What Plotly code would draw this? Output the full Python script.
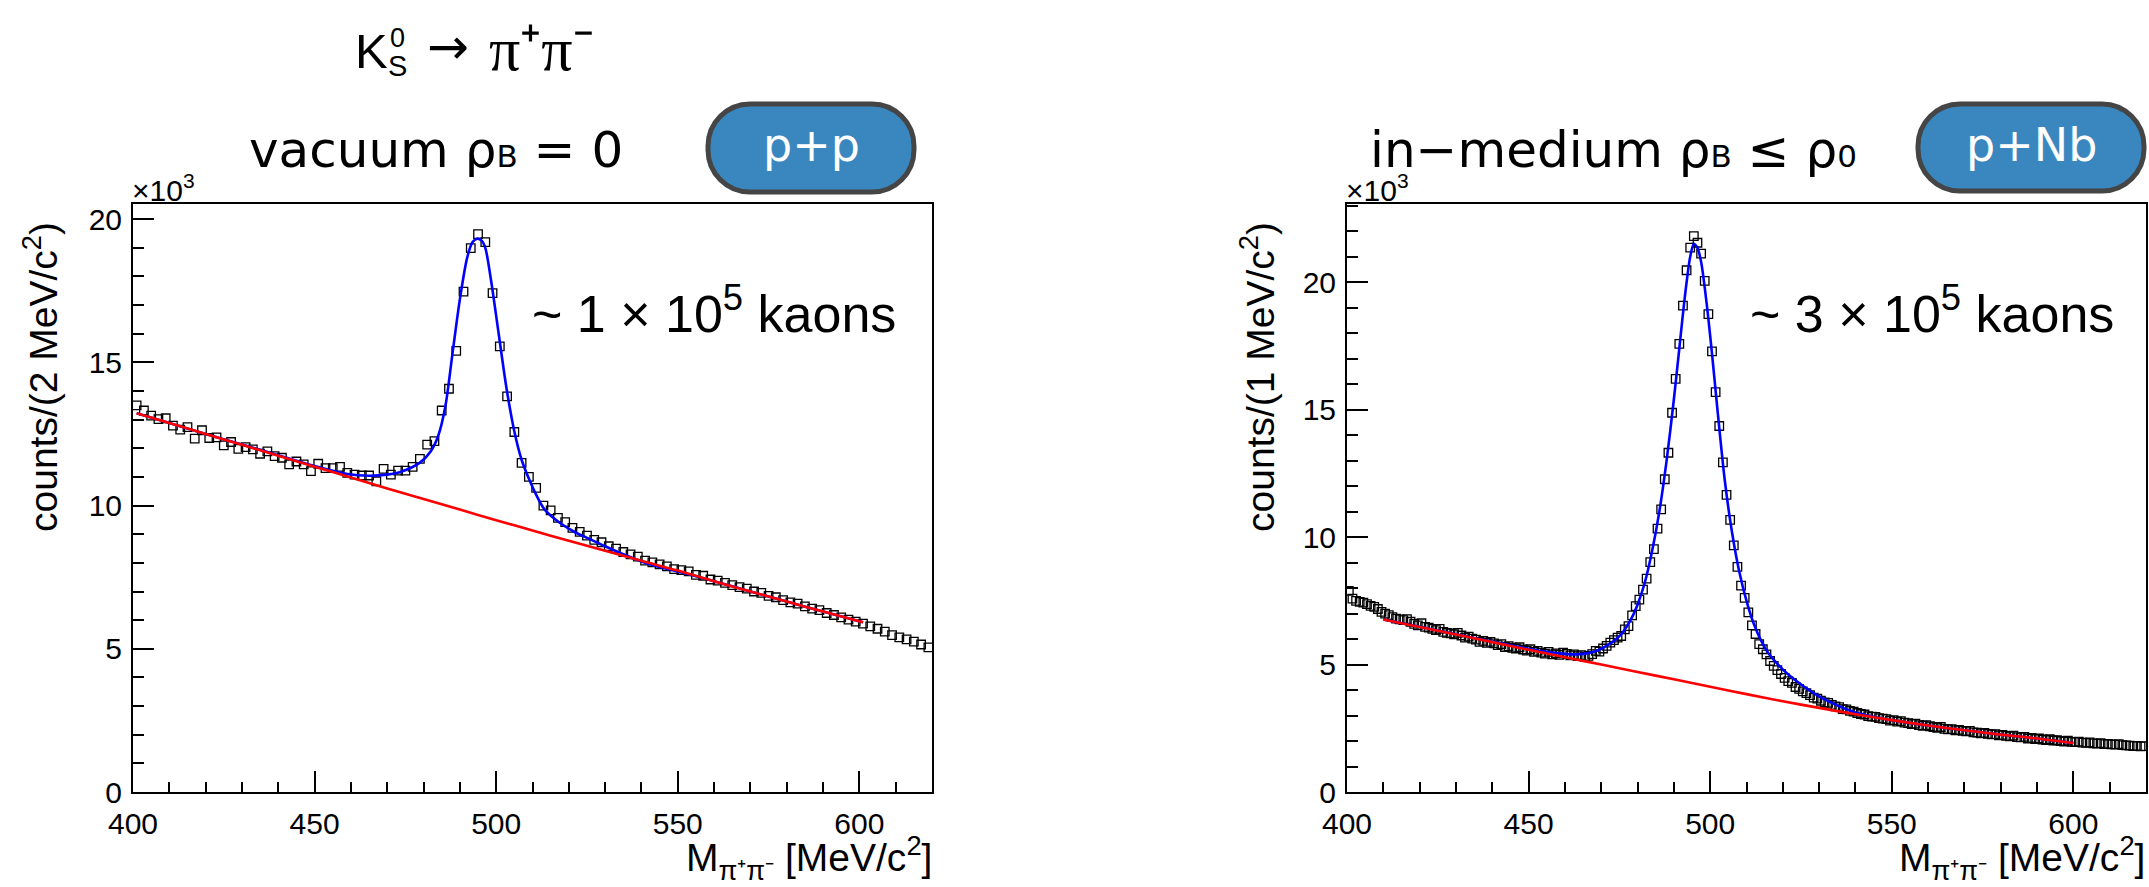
import plotly.graph_objects as go

W, H = 2149, 887

# ---------------- data (counts in units of 10^3) ----------------
# p+p : 2 MeV bins, centres 401 ... 619
left_mass = list(range(401, 620, 2))
left_counts = [
    13.50, 13.32, 13.14, 13.02, 13.05, 12.79, 12.65, 12.74, 12.34, 12.63,
    12.36, 12.38, 12.10, 12.22, 11.98, 12.04, 11.96, 11.81, 11.89, 11.73,
    11.67, 11.44, 11.54, 11.44, 11.20, 11.46, 11.31, 11.31, 11.35, 11.14,
    11.08, 11.05, 11.05, 10.85, 11.28, 11.08, 11.22, 11.22, 11.35, 11.63,
    12.13, 12.25, 13.32, 14.08, 15.40, 17.47, 18.99, 19.48, 19.20, 17.42,
    15.56, 13.81, 12.57, 11.49, 11.00, 10.62, 10.00, 9.83, 9.57, 9.42,
    9.22, 9.08, 8.95, 8.80, 8.72, 8.58, 8.50, 8.38, 8.30, 8.22,
    8.08, 8.02, 7.95, 7.88, 7.78, 7.75, 7.70, 7.58, 7.55, 7.42,
    7.38, 7.30, 7.22, 7.15, 7.10, 7.00, 6.95, 6.85, 6.80, 6.70,
    6.62, 6.58, 6.48, 6.40, 6.35, 6.25, 6.18, 6.10, 6.02, 5.95,
    5.88, 5.78, 5.70, 5.60, 5.48, 5.40, 5.33, 5.25, 5.15, 5.05,
]
left_fit_x = [401, 410, 420, 430, 440, 450, 459, 465, 470, 474, 479, 482, 484, 486, 488,
              490, 492, 493.5, 494.8, 496, 497, 498.6, 500.7, 502.8, 504.9, 507, 509.1,
              511.2, 513.3, 517.5, 521.7, 526, 530, 535, 540, 545, 550, 560, 570, 580, 590, 601]
left_fit_y = [13.22, 12.88, 12.50, 12.13, 11.76, 11.38, 11.10, 11.04, 11.08, 11.19, 11.50,
              11.90, 12.42, 13.46, 15.34, 17.20, 18.65, 19.20, 19.32, 19.25, 19.00, 17.85,
              15.99, 14.13, 12.65, 11.60, 10.91, 10.33, 9.87, 9.40, 9.07, 8.82, 8.58, 8.30,
              8.05, 7.86, 7.70, 7.36, 7.00, 6.65, 6.30, 5.93]
left_bkg_x = [401, 410, 420, 430, 440, 450, 460, 470, 480, 490, 500, 510, 520, 530, 540,
              550, 560, 570, 580, 590, 601]
left_bkg_y = [13.22, 12.88, 12.50, 12.12, 11.74, 11.36, 10.98, 10.60, 10.23, 9.86, 9.49,
              9.13, 8.77, 8.42, 8.07, 7.73, 7.36, 7.00, 6.65, 6.30, 5.93]

# p+Nb : 1 MeV bins, centres 400.5 ... 619.5
right_mass = [400.5 + i for i in range(220)]
right_counts = [
    7.89, 7.59, 7.50, 7.46, 7.43, 7.37, 7.30, 7.26, 7.18, 7.07,
    7.00, 6.94, 6.86, 6.80, 6.77, 6.74, 6.78, 6.68, 6.60, 6.54,
    6.62, 6.48, 6.45, 6.40, 6.35, 6.40, 6.28, 6.24, 6.22, 6.19,
    6.24, 6.14, 6.06, 6.10, 6.02, 5.98, 5.89, 5.93, 5.85, 5.89,
    5.83, 5.76, 5.80, 5.69, 5.72, 5.66, 5.63, 5.68, 5.59, 5.55,
    5.60, 5.50, 5.54, 5.47, 5.43, 5.50, 5.40, 5.44, 5.38, 5.47,
    5.42, 5.36, 5.40, 5.33, 5.37, 5.30, 5.34, 5.41, 5.54, 5.51,
    5.63, 5.73, 5.86, 5.96, 6.06, 6.12, 6.38, 6.51, 6.93, 7.29,
    7.55, 7.94, 8.37, 9.02, 9.53, 10.33, 11.09, 12.27, 13.31, 14.88,
    16.21, 17.58, 19.08, 20.47, 21.36, 21.81, 21.55, 21.12, 20.05, 18.75,
    17.29, 15.69, 14.36, 12.93, 11.66, 10.68, 9.68, 8.83, 8.10, 7.62,
    7.05, 6.54, 6.20, 5.80, 5.60, 5.40, 5.14, 4.95, 4.78, 4.63,
    4.48, 4.35, 4.28, 4.12, 4.05, 3.95, 3.88, 3.80, 3.70, 3.66,
    3.58, 3.52, 3.50, 3.42, 3.36, 3.33, 3.25, 3.24, 3.18, 3.15,
    3.10, 3.06, 3.04, 2.98, 2.96, 2.95, 2.90, 2.88, 2.86, 2.80,
    2.82, 2.76, 2.78, 2.72, 2.70, 2.66, 2.68, 2.62, 2.60, 2.62,
    2.58, 2.55, 2.52, 2.55, 2.48, 2.46, 2.47, 2.42, 2.44, 2.40,
    2.38, 2.40, 2.34, 2.33, 2.30, 2.32, 2.28, 2.26, 2.27, 2.22,
    2.24, 2.20, 2.18, 2.21, 2.15, 2.14, 2.16, 2.10, 2.12, 2.08,
    2.10, 2.06, 2.04, 2.07, 2.02, 2.03, 2.00, 1.98, 2.01, 1.97,
    1.96, 1.98, 1.94, 1.93, 1.95, 1.91, 1.90, 1.92, 1.88, 1.89,
    1.87, 1.86, 1.88, 1.84, 1.83, 1.82, 1.80, 1.81, 1.79, 1.80,
]
right_fit_x = [410, 420, 430, 440, 450, 455, 460, 463, 466, 469, 472, 474, 476, 478, 480,
               482, 484, 486, 488, 490, 491.5, 493, 494.5, 495.5, 496.5, 497.5, 499, 500.5,
               502, 504, 506, 508, 510, 512, 514, 516, 519, 522, 526, 530, 535, 540, 545,
               550, 560, 570, 580, 590, 600]
right_fit_y = [6.77, 6.48, 6.19, 5.90, 5.62, 5.50, 5.42, 5.40, 5.44, 5.55, 5.78, 5.98, 6.28,
               6.72, 7.35, 8.22, 9.45, 11.0, 13.0, 15.4, 17.4, 19.4, 21.0, 21.5, 21.35, 20.8,
               19.2, 17.2, 15.0, 12.25, 10.2, 8.65, 7.5, 6.6, 5.95, 5.45, 4.95, 4.55, 4.12,
               3.75, 3.40, 3.12, 2.95, 2.82, 2.61, 2.42, 2.25, 2.10, 1.92]
right_bkg_x = [410, 420, 430, 440, 450, 460, 470, 480, 490, 500, 510, 520, 530, 540, 550,
               560, 570, 580, 590, 600]
right_bkg_y = [6.77, 6.47, 6.18, 5.88, 5.58, 5.29, 5.00, 4.71, 4.42, 4.13, 3.84, 3.56, 3.30,
               3.05, 2.82, 2.61, 2.42, 2.25, 2.10, 1.92]

x_ticks = [400, 450, 500, 550, 600]
y_ticks_left = [0, 5, 10, 15, 20]
y_ticks_right = [0, 5, 10, 15, 20]

# ---------------- figure ----------------
def px(x):
    return x / W


def py(y):
    return 1 - y / H


ROOT_FONT = "Liberation Sans, Arial, sans-serif"
KEY_FONT = "DejaVu Sans, sans-serif"
SERIF = "Liberation Serif, Times New Roman, serif"

fig = go.Figure()

panels = [
    (left_mass, left_counts, left_fit_x, left_fit_y, left_bkg_x, left_bkg_y, "x", "y"),
    (right_mass, right_counts, right_fit_x, right_fit_y, right_bkg_x, right_bkg_y, "x2", "y2"),
]
for m, c, fx, fy, bx, by, xa, ya in panels:
    fig.add_trace(go.Scatter(x=m, y=c, mode="markers", xaxis=xa, yaxis=ya,
                             marker=dict(symbol="square-open", size=8.5, color="black",
                                         line=dict(width=1.3, color="black")),
                             showlegend=False, hoverinfo="skip"))
    fig.add_trace(go.Scatter(x=fx, y=fy, mode="lines", xaxis=xa, yaxis=ya,
                             line=dict(color="#0000ff", width=2.6, shape="spline", smoothing=0.8),
                             showlegend=False, hoverinfo="skip"))
    fig.add_trace(go.Scatter(x=bx, y=by, mode="lines", xaxis=xa, yaxis=ya,
                             line=dict(color="#ff0000", width=2.6, shape="spline", smoothing=0.8),
                             showlegend=False, hoverinfo="skip"))

common_axis = dict(
    showline=True, linecolor="black", linewidth=2, mirror=True, showgrid=False, zeroline=False,
    ticks="inside", ticklen=21, tickwidth=1.5, tickcolor="black", automargin=False,
    tickfont=dict(family=ROOT_FONT, size=30, color="black"),
)
xa_common = dict(common_axis, range=[400, 620], tickvals=x_ticks,
                 ticktext=[str(v) for v in x_ticks], ticklabelstandoff=4,
                 minor=dict(ticks="inside", ticklen=10, tickwidth=1.5, tickcolor="black", dtick=10, tick0=400))
ya_minor = dict(ticks="inside", ticklen=11, tickwidth=1.5, tickcolor="black", dtick=1, tick0=0)

fig.update_layout(
    width=W, height=H, margin=dict(l=0, r=0, t=0, b=0, autoexpand=False),
    paper_bgcolor="white", plot_bgcolor="white", template="none",
    xaxis=dict(xa_common, domain=[px(133), px(932)], anchor="y"),
    yaxis=dict(common_axis, domain=[py(792), py(204)], anchor="x", range=[0, 20.53],
               tickvals=y_ticks_left, ticktext=[str(v) for v in y_ticks_left],
               ticklabelstandoff=3, minor=ya_minor),
    xaxis2=dict(xa_common, domain=[px(1347), px(2146)], anchor="y2"),
    yaxis2=dict(common_axis, domain=[py(792), py(204)], anchor="x2", range=[0, 23.07],
                tickvals=y_ticks_right, ticktext=[str(v) for v in y_ticks_right],
                ticklabelstandoff=3, minor=ya_minor),
)


def ann(text, x, y, size, family=ROOT_FONT, xanchor="center", yanchor="middle", color="black", angle=0):
    fig.add_annotation(text=text, x=px(x), y=py(y), xref="paper", yref="paper",
                       xanchor=xanchor, yanchor=yanchor, showarrow=False, textangle=angle,
                       borderpad=0, font=dict(family=family, size=size, color=color))


# axis titles
ann("M<sub>π⁺π⁻</sub> [MeV/c<sup>2</sup>]", 933, 858, 39, xanchor="right")
ann("M<sub>π⁺π⁻</sub> [MeV/c<sup>2</sup>]", 2146, 858, 39, xanchor="right")
ann("counts/(2 MeV/c<sup>2</sup>)", 40, 377, 39, angle=-90)
ann("counts/(1 MeV/c<sup>2</sup>)", 1257, 377, 39, angle=-90)
# exponent labels
ann("×10<sup>3</sup>", 131, 188, 30, xanchor="left")
ann("×10<sup>3</sup>", 1345, 188, 30, xanchor="left")
# kaon counts
ann("~ 1 × 10<sup>5</sup> kaons", 714, 310, 52)
ann("~ 3 × 10<sup>5</sup> kaons", 1932, 310, 52)
# headings (small subscripts kept near the baseline as in the slide)
SUB = '<span style="font-size:31px">{}</span>'
ann("vacuum ρ" + SUB.format("B") + " = 0", 436, 150, 50, family=KEY_FONT)
ann("in−medium ρ" + SUB.format("B") + " ≤ ρ" + SUB.format("0"), 1613, 150, 50, family=KEY_FONT)
# title K0S -> pi+ pi-
ann("K", 354, 51, 49, xanchor="left")
ann("0", 389, 38, 27, xanchor="left")
ann("S", 387, 66, 29, xanchor="left")
ann("→", 426, 47, 50, family=KEY_FONT, xanchor="left")
ann("π⁺π⁻", 488, 49, 62, family=SERIF, xanchor="left")


# badges (rounded pills)
def pill(x0, y0, x1, y1, r):
    k = 0.5523 * r
    pts = [
        ("M", [(x0 + r, y0)]),
        ("L", [(x1 - r, y0)]),
        ("C", [(x1 - r + k, y0), (x1, y0 + r - k), (x1, y0 + r)]),
        ("L", [(x1, y1 - r)]),
        ("C", [(x1, y1 - r + k), (x1 - r + k, y1), (x1 - r, y1)]),
        ("L", [(x0 + r, y1)]),
        ("C", [(x0 + r - k, y1), (x0, y1 - r + k), (x0, y1 - r)]),
        ("L", [(x0, y0 + r)]),
        ("C", [(x0, y0 + r - k), (x0 + r - k, y0), (x0 + r, y0)]),
    ]
    s = ""
    for cmd, ps in pts:
        s += cmd + " " + " ".join(f"{px(a):.5f},{py(b):.5f}" for a, b in ps) + " "
    return s + "Z"


for (x0, y0, x1, y1, label) in [(708, 104, 914, 192, "p+p"), (1918, 104, 2144, 191, "p+Nb")]:
    fig.add_shape(type="path", path=pill(x0, y0, x1, y1, 42), xref="paper", yref="paper",
                  fillcolor="#3a87bf", line=dict(color="#454545", width=5), layer="above")
    ann(label, (x0 + x1) / 2, (y0 + y1) / 2 - 3, 46, family=KEY_FONT, color="white")

fig.write_html("out.html")
